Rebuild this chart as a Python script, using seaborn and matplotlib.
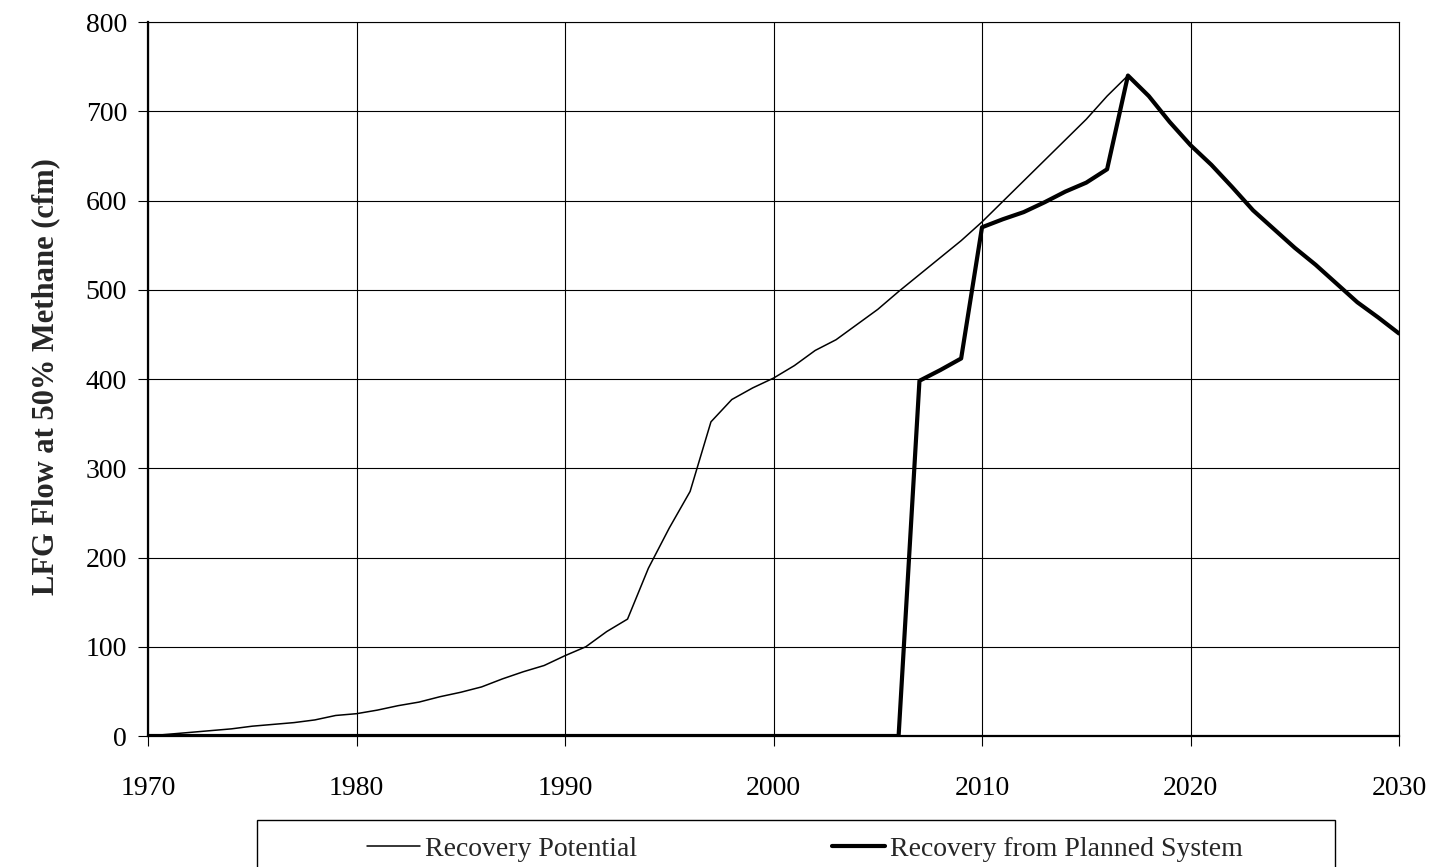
import numpy as np
import pandas as pd
import matplotlib
matplotlib.use("Agg")
import matplotlib.pyplot as plt
import seaborn as sns
from matplotlib.patches import Rectangle

# values
years = list(range(1970, 2031))
potential = [0, 2, 4, 6, 8, 11, 13, 15, 18, 23,
             25, 29, 34, 38, 44, 49, 55, 64, 72, 79,
             90, 100, 117, 131, 188, 233, 274, 352, 377, 390,
             401, 415, 432, 444, 461, 478, 498, 517, 536, 555,
             576, 599, 622, 645, 668, 691, 717, 740, 717, 688,
             662, 640, 615, 589, 568, 547, 528, 507, 486, 469,
             451]
planned = [0] * 36 + [0, 398, 410, 423,
                      570, 579, 587, 598, 610, 620, 635, 740, 717, 688,
                      662, 640, 615, 589, 568, 547, 528, 507, 486, 469,
                      451]

df = pd.DataFrame({"year": years, "potential": potential, "planned": planned})

sns.set_style("white")
plt.rcParams["font.family"] = ["Liberation Serif", "DejaVu Serif"]

fig = plt.figure(figsize=(14.31, 8.67), dpi=100)
ax = fig.add_axes([148 / 1431, 1 - 736 / 867, (1399 - 148) / 1431, (736 - 22) / 867])

sns.lineplot(data=df, x="year", y="potential", ax=ax, color="black", linewidth=1.1,
             label="Recovery Potential", legend=False)
sns.lineplot(data=df, x="year", y="planned", ax=ax, color="black", linewidth=3.0,
             label="Recovery from Planned System", legend=False)

ax.set_xlim(1970, 2030)
ax.set_ylim(0, 800)
ax.set_xticks(range(1970, 2031, 10))
ax.set_yticks(range(0, 801, 100))
ax.grid(True, color="black", linewidth=0.8)
for s in ax.spines.values():
    s.set_color("black")
    s.set_linewidth(0.8)
ax.spines["left"].set_linewidth(1.6)
ax.spines["bottom"].set_linewidth(1.6)
ax.tick_params(axis="both", which="major", direction="out", length=7, width=0.8,
               labelsize=20, colors="black", left=True, bottom=True)
ax.tick_params(axis="x", pad=22)
ax.tick_params(axis="y", pad=8)
ax.set_xlabel("")
ax.set_ylabel("LFG Flow at 50% Methane (cfm)", fontsize=22, fontweight="bold")
ax.yaxis.set_label_coords(-88 / 1251, 0.503)

# legend box below the plot
fig.patches.append(Rectangle((257 / 1431, -0.05), (1335 - 257) / 1431, 0.05 + (867 - 820) / 867,
                             transform=fig.transFigure, fill=False, edgecolor="black",
                             linewidth=1.0))
handles, labels = ax.get_legend_handles_labels()
fig.legend(handles, labels, loc="center left", bbox_to_anchor=(342 / 1431, 1 - 849 / 867),
           ncol=2, frameon=False, fontsize=20, handlelength=1.9, handletextpad=0.2,
           columnspacing=7.0)

fig.savefig("out.png", dpi=100)
